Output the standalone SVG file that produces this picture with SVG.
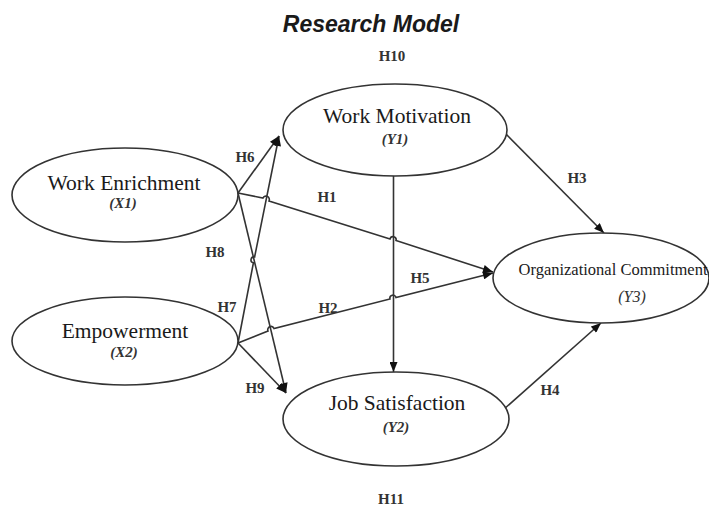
<svg xmlns="http://www.w3.org/2000/svg" width="709" height="508" viewBox="0 0 709 508">
  <defs>
    <marker id="arrow" viewBox="0 0 10 8" refX="10" refY="4" markerWidth="11" markerHeight="8" markerUnits="userSpaceOnUse" orient="auto">
      <path d="M0,0 L10,4 L0,8 Z" fill="#111"/>
    </marker>
    <style>
      .node ellipse { fill: #fff; stroke: #333; stroke-width: 1.6; }
      .name { font-family: "Liberation Serif", "Times New Roman", serif; font-size: 21.5px; fill: #1a1a1a; text-anchor: middle; }
      .code { font-family: "Liberation Serif", "Times New Roman", serif; font-size: 15px; font-weight: bold; font-style: italic; fill: #333; text-anchor: middle; }
      .hyp { font-family: "Liberation Serif", "Times New Roman", serif; font-size: 15px; font-weight: bold; fill: #333; text-anchor: middle; }
      .edge { fill: none; stroke: #333; stroke-width: 1.6; marker-end: url(#arrow); }
      .title { font-family: "Liberation Sans", Arial, sans-serif; font-size: 23px; font-weight: bold; font-style: italic; fill: #1a1a1a; text-anchor: middle; }
    </style>
  </defs>

  <rect width="709" height="508" fill="#fff"/>

  <text class="title" x="371" y="32">Research Model</text>

  <!-- connectors -->
  <g id="connectors">
    <!-- H6: Work Enrichment -> Work Motivation -->
    <path class="edge" d="M238,193 L279,136"/>
    <!-- H7: Empowerment -> Work Motivation, hopping over H8 -->
    <path class="edge" d="M238,343 L253.4,262.9 A3,3 0 0 1 254.6,257 L279,136"/>
    <!-- H8: Work Enrichment -> Job Satisfaction -->
    <path class="edge" d="M238,193 L286,393"/>
    <!-- H9: Empowerment -> Job Satisfaction -->
    <path class="edge" d="M238,343 L286,393"/>
    <!-- H1: Work Enrichment -> Organizational Commitment -->
    <path class="edge" d="M238,193 L263,198 A3,3 0 0 1 269,201 L390,239 A3,3 0 0 1 396,240.5 L493,272"/>
    <!-- H2: Empowerment -> Organizational Commitment -->
    <path class="edge" d="M238,343 L268,331 A3,3 0 0 1 274,328.5 L390,299 A3,3 0 0 1 396,297.5 L493,273"/>
    <!-- H5: Work Motivation -> Job Satisfaction -->
    <path class="edge" d="M393.5,176 L393.5,372"/>
    <!-- H3: Work Motivation -> Organizational Commitment -->
    <path class="edge" d="M505,133 L604,233"/>
    <!-- H4: Job Satisfaction -> Organizational Commitment -->
    <path class="edge" d="M503,410 L601,323"/>
  </g>

  <!-- nodes -->
  <g id="work-enrichment" class="node">
    <ellipse cx="125" cy="195" rx="113" ry="47"/>
    <text class="name" x="124" y="190">Work Enrichment</text>
    <text class="code" x="123" y="208">(X1)</text>
  </g>

  <g id="empowerment" class="node">
    <ellipse cx="125" cy="341" rx="113" ry="44"/>
    <text class="name" x="125" y="338">Empowerment</text>
    <text class="code" x="124" y="357">(X2)</text>
  </g>

  <g id="work-motivation" class="node">
    <ellipse cx="395" cy="130" rx="112" ry="46"/>
    <text class="name" x="397" y="123">Work Motivation</text>
    <text class="code" x="395" y="144">(Y1)</text>
  </g>

  <g id="job-satisfaction" class="node">
    <ellipse cx="396" cy="419" rx="113" ry="47"/>
    <text class="name" x="397" y="410">Job Satisfaction</text>
    <text class="code" x="396" y="432">(Y2)</text>
  </g>

  <g id="organizational-commitment" class="node">
    <ellipse cx="601" cy="278" rx="108" ry="45"/>
    <text class="name" x="613" y="275" style="font-size:16.5px">Organizational Commitment</text>
    <text class="code" x="632" y="302" style="font-weight:normal;font-size:16px">(Y3)</text>
  </g>

  <!-- hypothesis labels -->
  <g id="labels">
    <text class="hyp" x="392" y="61">H10</text>
    <text class="hyp" x="245" y="162">H6</text>
    <text class="hyp" x="327" y="202">H1</text>
    <text class="hyp" x="215" y="257">H8</text>
    <text class="hyp" x="227" y="312">H7</text>
    <text class="hyp" x="328" y="313">H2</text>
    <text class="hyp" x="420" y="283">H5</text>
    <text class="hyp" x="255" y="393">H9</text>
    <text class="hyp" x="577" y="183">H3</text>
    <text class="hyp" x="550" y="395">H4</text>
    <text class="hyp" x="391" y="504">H11</text>
  </g>
</svg>
